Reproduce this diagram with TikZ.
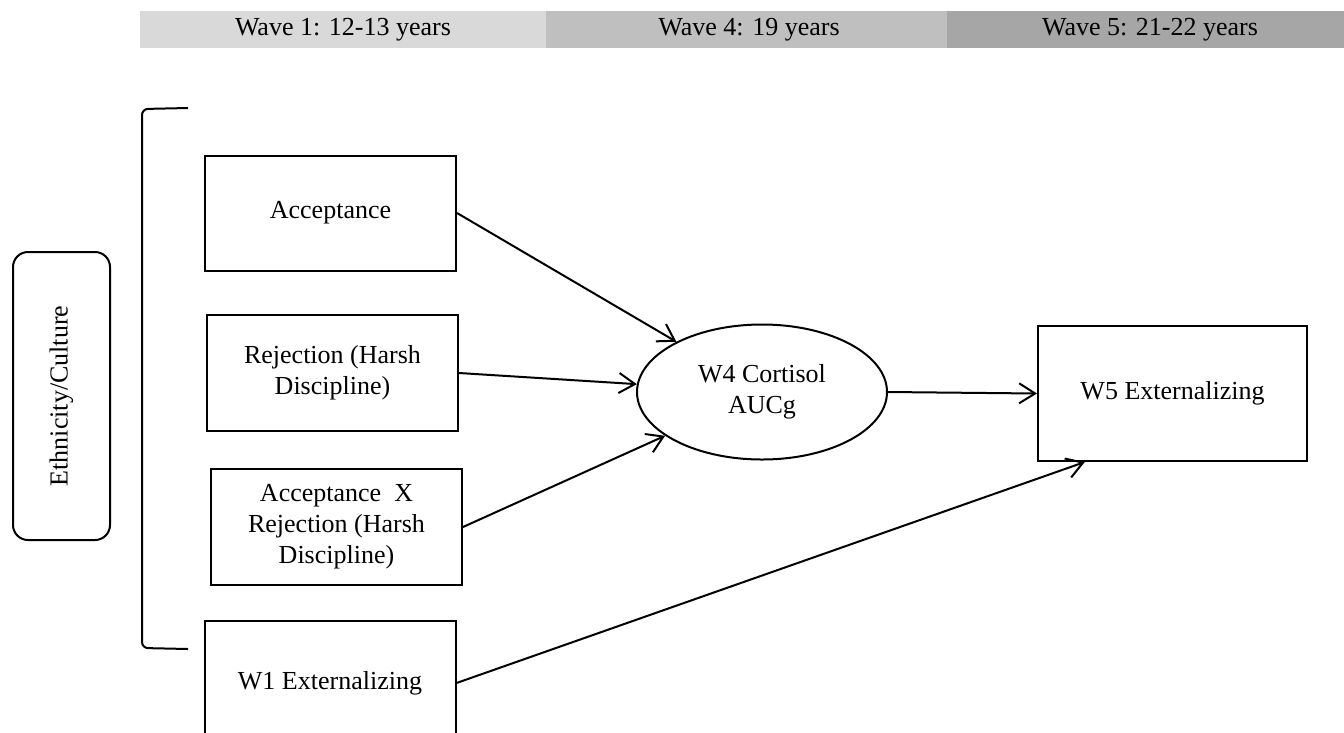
\documentclass[tikz,border=0pt]{standalone}
\usepackage{fontspec}
\setmainfont{Liberation Serif}
\usepackage{tikz}
\usepackage{xcolor}
\usetikzlibrary{arrows.meta,shapes.geometric}

\definecolor{waveA}{HTML}{D9D9D9}
\definecolor{waveB}{HTML}{BFBFBF}
\definecolor{waveC}{HTML}{A6A6A6}

\begin{document}
\begin{tikzpicture}[
    x=1pt, y=-1pt,
    font=\fontsize{26}{31}\selectfont,
    wavebar/.style={rectangle, minimum width=406pt, minimum height=37pt, inner sep=0pt},
    varbox/.style={draw, line width=2pt, rectangle, minimum width=251pt,
                   minimum height=116pt, align=center},
    path/.style={line width=2pt, -{Straight Barb[length=16pt, width=20pt, line width=2pt]}},
]
\useasboundingbox (0,0) rectangle (1344,732);

% Wave header
\node[wavebar, fill=waveA] (wave1) at (343,29.5) {Wave 1: 12-13 years};
\node[wavebar, fill=waveB] (wave4) at (749,29.5) {Wave 4: 19 years};
\node[wavebar, fill=waveC] (wave5) at (1150,29.5) {Wave 5: 21-22 years};

% Covariate and bracket
\node[draw, line width=2pt, rounded corners=15pt, rotate=90,
      minimum width=288pt, minimum height=97pt] (ethnic) at (61.5,396) {Ethnicity/Culture};
\draw[line width=2pt, rounded corners=6pt] (188,108) -- (142,109) -- (142,648) -- (188,649);

% Predictors
\node[varbox, minimum height=115pt] (accept) at (330.5,213) {Acceptance};
\node[varbox] (reject) at (332.5,373) {Rejection (Harsh\\Discipline)};
\node[varbox] (inter) at (336.5,527) {Acceptance\ \ X\\Rejection (Harsh\\Discipline)};
\node[varbox, minimum height=124pt] (w1ext) at (330,683) {W1 Externalizing};

% Mediator and outcome
\node[draw, line width=2pt, ellipse, minimum width=250pt, minimum height=135pt,
      align=center] (cortisol) at (762,392) {W4 Cortisol\\AUCg};
\node[varbox, minimum width=269pt, minimum height=135pt] (w5ext) at (1172.5,393.5) {W5 Externalizing};

% Paths
\draw[path] (accept.east) -- (cortisol);
\draw[path] (reject.east) -- (cortisol);
\draw[path] (inter.east) -- (cortisol);
\draw[path] (cortisol.east) -- (w5ext.west);
\draw[path] (w1ext.east) -- (w5ext.218);

\end{tikzpicture}
\end{document}
